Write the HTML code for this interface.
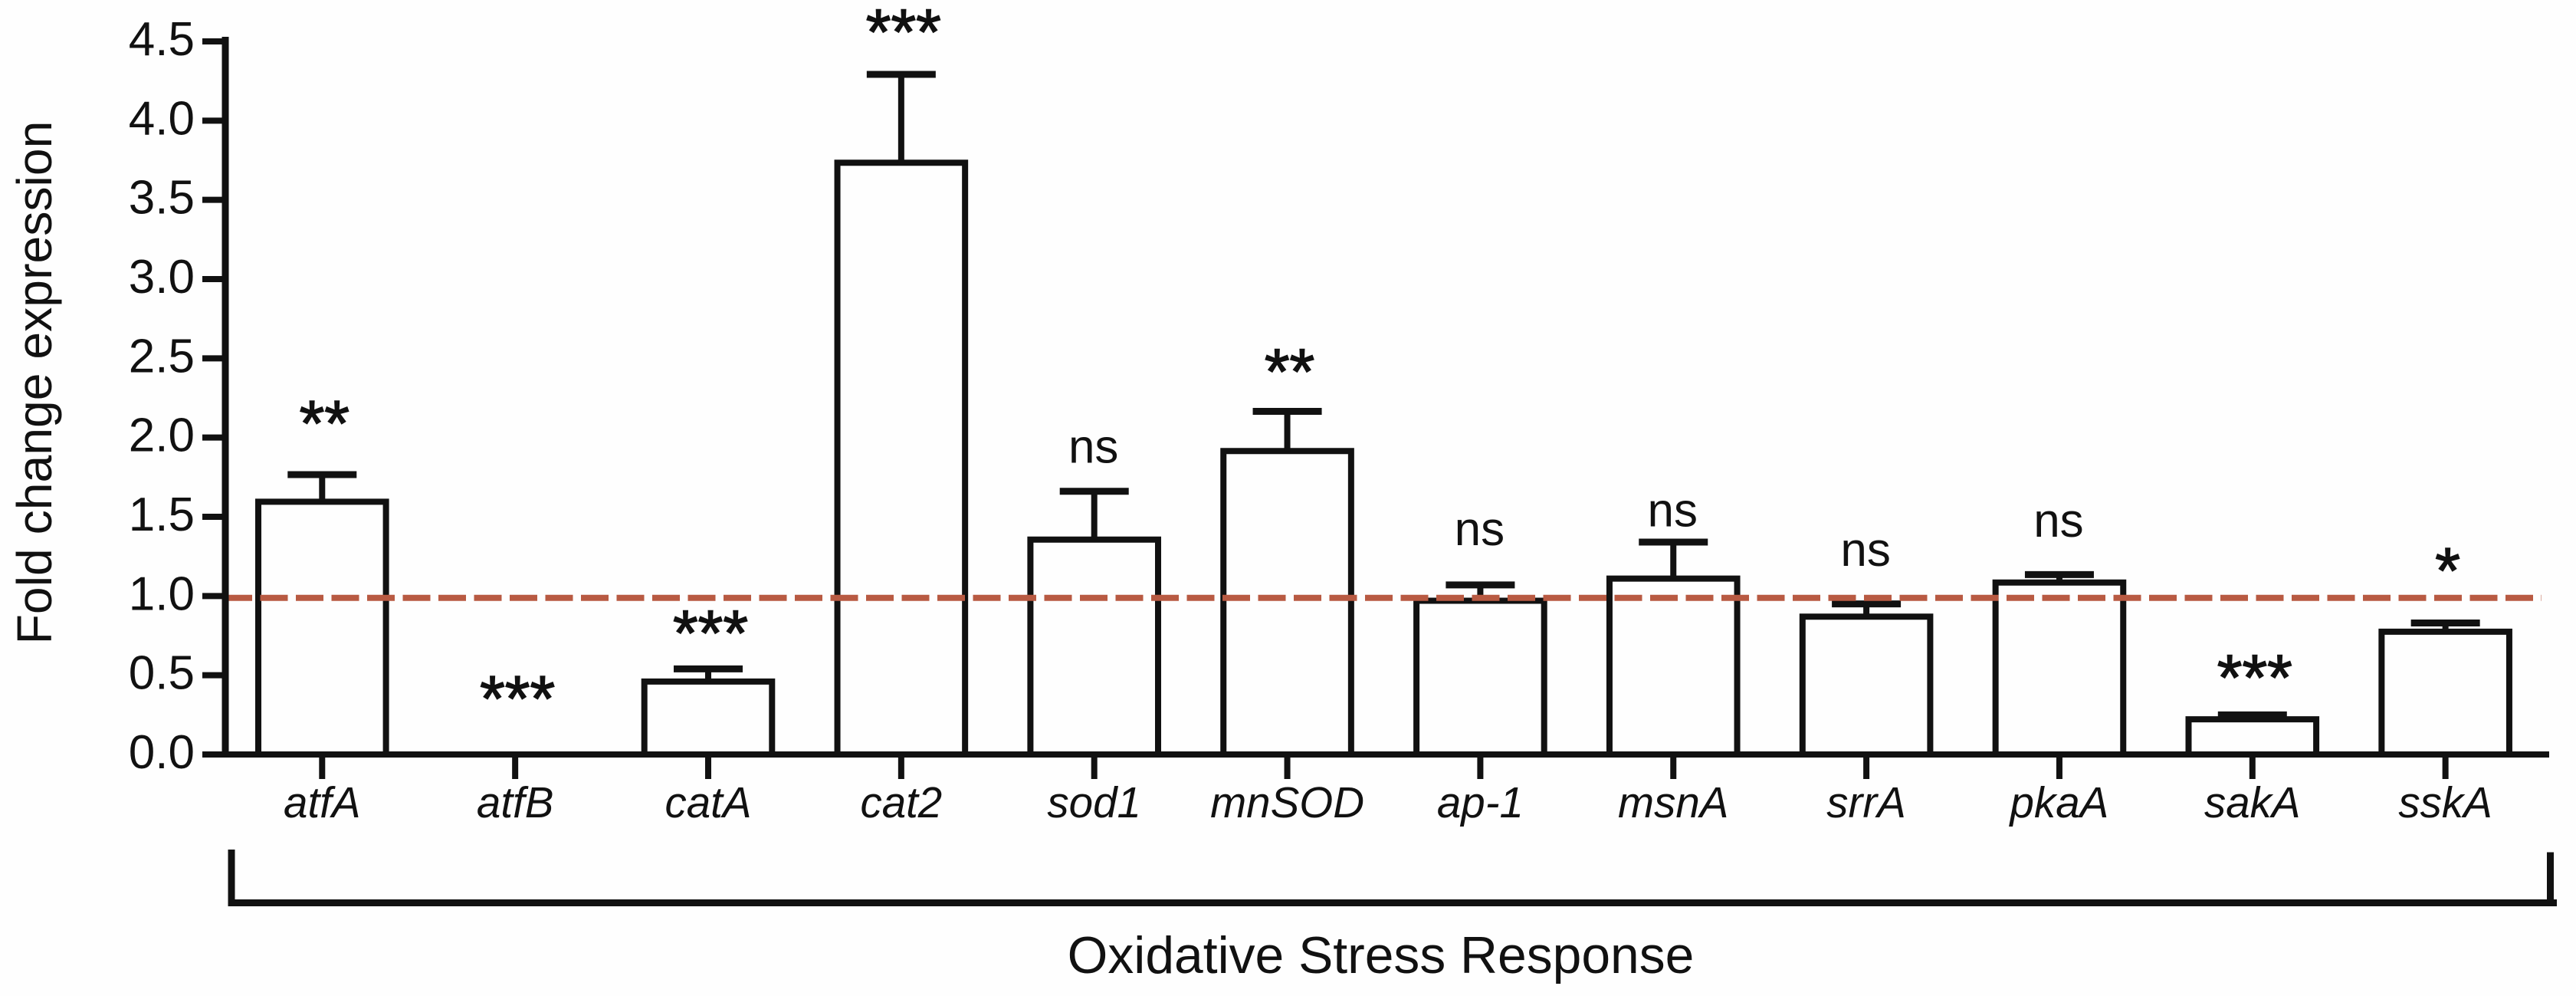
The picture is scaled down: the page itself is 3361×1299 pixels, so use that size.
<!DOCTYPE html>
<html lang="en">
<head>
<meta charset="utf-8">
<title>Oxidative Stress Response fold change chart</title>
<style>
html,body{margin:0;padding:0;background:#fefefe;}
svg{display:block;font-family:"Liberation Sans",Arial,sans-serif;fill:#111;}
</style>
</head>
<body>
<svg id="chart" xmlns="http://www.w3.org/2000/svg" width="3361" height="1299" viewBox="0 0 3361 1299">
  <rect x="0" y="0" width="3361" height="1299" fill="#fefefe"/>
  <g id="bars"></g>
  <g id="reference"></g>
  <g id="axes"></g>
  <g id="annotations"></g>
  <text transform="translate(67,499) rotate(-90)" text-anchor="middle" font-size="64.3">Fold change expression</text>
  <path d="M302 1108 V1177.5 H3336 M3327.5 1111.5 V1177.5" fill="none" stroke="#111" stroke-width="9"/>
  <text x="1801.5" y="1269" text-anchor="middle" font-size="67.8">Oxidative Stress Response</text>
</svg>
<script>
const categories = ['atfA','atfB','catA','cat2','sod1','mnSOD','ap-1','msnA','srrA','pkaA','sakA','sskA'];
const meanValues = [1.595,0,0.46,3.734,1.356,1.915,0.97,1.11,0.87,1.085,0.222,0.775];
const errorTops = [1.766,0,0.54,4.292,1.661,2.165,1.07,1.34,0.95,1.135,0.25,0.83];
const significance = ['**','***','***','***','ns','**','ns','ns','ns','ns','***','*'];
const significanceLevels = [1.95,0.213,0.626,4.42,1.84,2.276,1.32,1.44,1.19,1.375,0.346,1.021];
const yTicks = [0,0.5,1,1.5,2,2.5,3,3.5,4,4.5];
const yTickLabels = ['0.0','0.5','1.0','1.5','2.0','2.5','3.0','3.5','4.0','4.5'];
const referenceLevel = 0.988;

const NS = 'http://www.w3.org/2000/svg';
const INK = '#111';
const yAxisBase = 984;
const yAxisUnit = 206.67;
const xFirst = 420.3;
const xStep = 251.85;
function yScale(v){ return yAxisBase - v * yAxisUnit; }
function xScale(i){ return xFirst + i * xStep; }
function make(tag, attrs, parent){
  const el = document.createElementNS(NS, tag);
  for (const k in attrs) el.setAttribute(k, attrs[k]);
  parent.appendChild(el);
  return el;
}
const barsLayer = document.getElementById('bars');
const refLayer = document.getElementById('reference');
const axesLayer = document.getElementById('axes');
const annLayer = document.getElementById('annotations');
const barHalf = 83.3;
const capHalf = 45;

categories.forEach(function(cat, i){
  const cx = xScale(i);
  const top = yScale(meanValues[i]);
  const cap = yScale(errorTops[i]);
  if (meanValues[i] > 0) {
    const bar = make('path', {d:'M'+(cx-barHalf)+' '+yAxisBase+' V'+top+' H'+(cx+barHalf)+' V'+yAxisBase, fill:'none', stroke:INK, 'stroke-width':8, 'stroke-linejoin':'miter'}, barsLayer);
    
    
    const stem = make('line', {x1:cx, x2:cx, y1:top, y2:cap, stroke:INK, 'stroke-width':8}, barsLayer);
    
    
    const capLine = make('line', {x1:cx-capHalf, x2:cx+capHalf, y1:cap, y2:cap, stroke:INK, 'stroke-width':9}, barsLayer);
    
    
  }
  const tick = make('line', {x1:cx, x2:cx, y1:yAxisBase, y2:1016, stroke:INK, 'stroke-width':8}, axesLayer);
  
  
  const label = make('text', {x:cx, y:1066, 'text-anchor':'middle', 'font-size':56.5, 'font-style':'italic'}, axesLayer);
  label.textContent = cat;
  
  
  const isNs = significance[i] === 'ns';
  const sig = make('text', {x:cx + (isNs ? -1 : 3), y:yScale(significanceLevels[i]), 'text-anchor':'middle', 'font-size': isNs ? 62 : 84}, annLayer);
  if (!isNs) {
    sig.setAttribute('stroke', INK);
    sig.setAttribute('stroke-width', '1.5');
  }
  sig.textContent = significance[i];
  
  
});

const refLine = make('line', {x1:293, x2:3316, y1:yScale(referenceLevel), y2:yScale(referenceLevel), stroke:'#b85a42', 'stroke-width':8, 'stroke-dasharray':'36 10.5'}, refLayer);



const yAxis = make('line', {x1:294, x2:294, y1:48, y2:yAxisBase, stroke:INK, 'stroke-width':9}, axesLayer);


const xAxis = make('line', {x1:264, x2:3326, y1:yAxisBase, y2:yAxisBase, stroke:INK, 'stroke-width':8}, axesLayer);



yTicks.forEach(function(v, i){
  const y = yScale(v);
  const t = make('line', {x1:264, x2:294, y1:y, y2:y, stroke:INK, 'stroke-width':8}, axesLayer);
  
  
  const l = make('text', {x:254, y:y+18, 'text-anchor':'end', 'font-size':62}, axesLayer);
  l.textContent = yTickLabels[i];
  
  
});
</script>
</body>
</html>
